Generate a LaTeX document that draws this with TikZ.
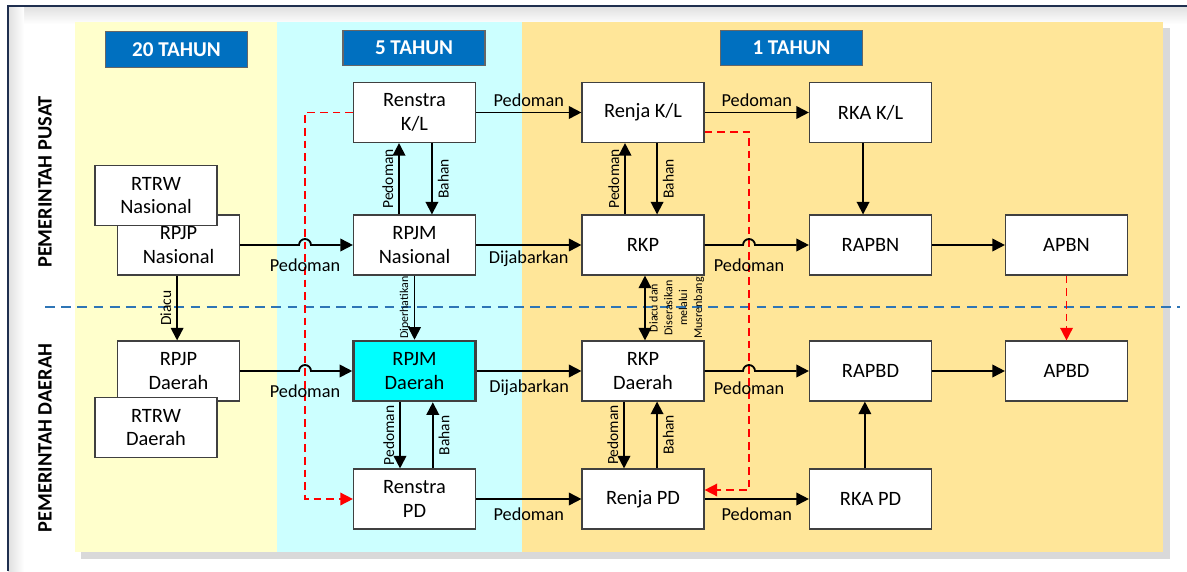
\documentclass[tikz,border=0pt]{standalone}
\usepackage{fontspec}
\setmainfont{Carlito}
\usetikzlibrary{arrows.meta,positioning}
\definecolor{kuning}{HTML}{FFFFCC}
\definecolor{tosca}{HTML}{CCFFFF}
\definecolor{jingga}{HTML}{FFE699}
\definecolor{birutua}{HTML}{0070C0}
\definecolor{sian}{HTML}{00FFFF}
\definecolor{garisbiru}{HTML}{2E75B6}
\definecolor{bingkai}{HTML}{1F2F4F}

\begin{document}
\begin{tikzpicture}[x=0.025cm,y=-0.025cm,
    kotak/.style={draw=black!75,line width=0.8pt,fill=white,minimum width=3.05cm,
      minimum height=1.5cm,align=center,font=\fontsize{14.5}{17}\selectfont},
    judul/.style={draw=black!60,line width=0.8pt,fill=birutua,text=white,
      minimum width=3.55cm,minimum height=0.88cm,font=\bfseries\fontsize{15}{17}\selectfont},
    panah/.style={line width=1.3pt,-{Triangle[length=9pt,width=9pt]}},
    panahdua/.style={line width=1.3pt,{Triangle[length=9pt,width=9pt]}-{Triangle[length=9pt,width=9pt]}},
    merah/.style={red,line width=1.1pt,dash pattern=on 5.5pt off 3.5pt,-{Triangle[length=9pt,width=9pt]}},
    ket/.style={font=\fontsize{13}{15}\selectfont},
    ketv/.style={font=\fontsize{11}{13}\selectfont,rotate=90,inner sep=3.5pt},
    kecil/.style={font=\fontsize{8.5}{10.5}\selectfont,rotate=90,inner sep=2.5pt,align=center},
    sisi/.style={font=\bfseries\fontsize{14.5}{16}\selectfont,rotate=90}]
  \useasboundingbox (0,0) rectangle (1187,571);
  \fill[white] (0,0) rectangle (1187,571);
  % latar dan kolom waktu
  \shade[top color=gray!25,bottom color=white] (8,6) rectangle (1187,24);
  \shade[left color=gray!25,right color=white] (8,6) rectangle (24,571);
  \fill[gray!30] (81,28) rectangle (1170,559);
  \fill[kuning] (75,22) rectangle (277,552);
  \fill[tosca] (277,22) rectangle (522,552);
  \fill[jingga] (522,22) rectangle (1163,552);
  \draw[bingkai,line width=1.5pt] (1187,6) -- (8,6) -- (8,571);

  \node[judul] (h20) at (176.5,49.5) {20 TAHUN};
  \node[judul] (h5) at (414,48) {5 TAHUN};
  \node[judul] (h1) at (791.5,48) {1 TAHUN};
  \node[sisi] (pusat) at (45,182) {PEMERINTAH PUSAT};
  \node[sisi] (daerah) at (45,438) {PEMERINTAH DAERAH};

  \draw[garisbiru,line width=1.4pt,dash pattern=on 7pt off 4.5pt] (45,307) -- (1180,307);

  \coordinate (hopA) at (305,245);
  \coordinate (hopB) at (749,245);
  \coordinate (hopC) at (305,371);
  \coordinate (hopD) at (749,371);
  \coordinate (belok) at (749,490);

  % kotak dokumen
  \node[kotak] (rpjpNas) at (178.5,245) {RPJP\\Nasional};
  \node[kotak] (rtrwNas) at (156,195.5) {RTRW\\Nasional};
  \node[kotak] (renstraKL) at (414.5,112.5) {Renstra\\K/L};
  \node[kotak] (rpjmNas) at (414.5,245) {RPJM\\Nasional};
  \node[kotak] (renjaKL) at (643,112.5) {Renja K/L};
  \node[kotak] (rkp) at (643,245) {RKP};
  \node[kotak] (rkaKL) at (870.5,112.5) {RKA K/L};
  \node[kotak] (rapbn) at (870.5,245) {RAPBN};
  \node[kotak] (apbn) at (1066.5,245) {APBN};
  \node[kotak] (rpjpDa) at (178.5,371) {RPJP\\Daerah};
  \node[kotak] (rtrwDa) at (156,427.5) {RTRW\\Daerah};
  \node[kotak,fill=sian,line width=1.8pt] (rpjmDa) at (414.5,371) {RPJM\\Daerah};
  \node[kotak] (rkpDa) at (643,371) {RKP\\Daerah};
  \node[kotak] (rapbd) at (870.5,371) {RAPBD};
  \node[kotak] (apbd) at (1066.5,371) {APBD};
  \node[kotak] (renstraPD) at (414.5,499) {Renstra\\PD};
  \node[kotak] (renjaPD) at (643,499) {Renja PD};
  \node[kotak] (rkaPD) at (870.5,499) {RKA PD};

  % garis putus merah
  \draw[merah] (renstraKL.west) -| (hopA |- renstraPD.west) -- (renstraPD.west);
  \draw[merah] ([yshift=8pt]renjaKL.south east) -| (belok) -- (belok -| renjaPD.east);
  \draw[merah] (apbn.south) -- (apbd.north);

  % panah mendatar
  \draw[panah] (renstraKL.east) -- node[ket,above] (lb1) {Pedoman} (renjaKL.west);
  \draw[panah] (renjaKL.east) -- node[ket,above] (lb2) {Pedoman} (rkaKL.west);
  \draw[panah] (rpjpNas.east) -- ([xshift=-4.25pt]hopA)
    arc[start angle=180,end angle=0,radius=4.25pt] -- (rpjmNas.west);
  \node[ket,below=6pt of hopA] (lb3) {Pedoman};
  \draw[panah] (rpjmNas.east) -- node[ket,below] (lb4) {Dijabarkan} (rkp.west);
  \draw[panah] (rkp.east) -- ([xshift=-4.25pt]hopB)
    arc[start angle=180,end angle=0,radius=4.25pt] -- (rapbn.west);
  \node[ket,below=6pt of hopB] (lb5) {Pedoman};
  \draw[panah] (rapbn.east) -- (apbn.west);
  \draw[panah] (rpjpDa.east) -- ([xshift=-4.25pt]hopC)
    arc[start angle=180,end angle=0,radius=4.25pt] -- (rpjmDa.west);
  \node[ket,below=6pt of hopC] (lb6) {Pedoman};
  \draw[panah] (rpjmDa.east) -- node[ket,below=2pt] (lb7) {Dijabarkan} (rkpDa.west);
  \draw[panah] (rkpDa.east) -- ([xshift=-4.25pt]hopD)
    arc[start angle=180,end angle=0,radius=4.25pt] -- (rapbd.west);
  \node[ket,below=4pt of hopD] (lb8) {Pedoman};
  \draw[panah] (rapbd.east) -- (apbd.west);
  \draw[panah] (renstraPD.east) -- node[ket,below=2pt] (lb9) {Pedoman} (renjaPD.west);
  \draw[panah] (renjaPD.east) -- node[ket,below=2pt] (lb10) {Pedoman} (rkaPD.west);

  % panah tegak
  \draw[panah] ([xshift=-11pt]rpjmNas.north) -- node[ketv,anchor=south] (v1) {Pedoman} ([xshift=-11pt]renstraKL.south);
  \draw[panah] ([xshift=12.4pt]renstraKL.south) -- node[ketv,anchor=north] (v2) {Bahan} ([xshift=12.4pt]rpjmNas.north);
  \draw[panah] ([xshift=-12.8pt]rkp.north) -- node[ketv,anchor=south] (v3) {Pedoman} ([xshift=-12.8pt]renjaKL.south);
  \draw[panah] ([xshift=10pt]renjaKL.south) -- node[ketv,anchor=north] (v4) {Bahan} ([xshift=10pt]rkp.north);
  \draw[panah] ([xshift=-5.3pt]rkaKL.south) -- ([xshift=-5.3pt]rapbn.north);
  \draw[panah] ([xshift=-1pt]rpjpNas.south) -- node[ketv,anchor=south] (v5) {Diacu} ([xshift=-1pt]rpjpDa.north);
  \draw[panah] (rpjmNas.south) -- node[kecil,anchor=south] (v6) {Diperhatikan} (rpjmDa.north);
  \draw[panahdua] ([xshift=1.4pt]rkp.south) -- node[kecil,anchor=north] (v7) {Diacu dan\\Diserasikan\\melalui\\Musrenbang} ([xshift=1.4pt]rkpDa.north);
  \draw[panah] ([xshift=-10.3pt]rpjmDa.south) -- node[ketv,anchor=south] (v8) {Pedoman} ([xshift=-10.3pt]renstraPD.north);
  \draw[panah] ([xshift=13pt]renstraPD.north) -- node[ketv,anchor=north] (v9) {Bahan} ([xshift=13pt]rpjmDa.south);
  \draw[panah] ([xshift=-13.5pt]rkpDa.south) -- node[ketv,anchor=south] (v10) {Pedoman} ([xshift=-13.5pt]renjaPD.north);
  \draw[panah] ([xshift=10pt]renjaPD.north) -- node[ketv,anchor=north] (v11) {Bahan} ([xshift=10pt]rkpDa.south);
  \draw[panah] ([xshift=-4pt]rkaPD.north) -- ([xshift=-4pt]rapbd.south);
\end{tikzpicture}
\end{document}
